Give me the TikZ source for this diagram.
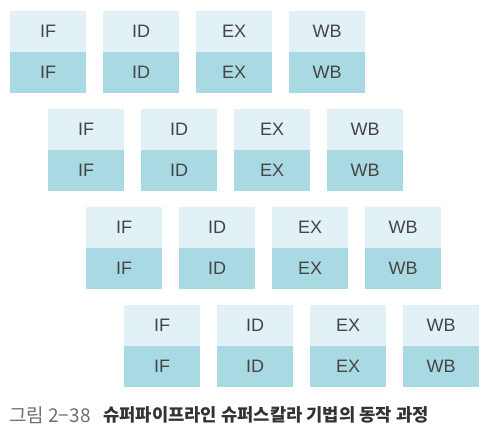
\documentclass[tikz,border=0pt]{standalone}
\usepackage{fontspec}
\setmainfont{Liberation Sans}
\newfontfamily\kr{Noto Sans CJK KR}
\definecolor{toplt}{HTML}{E1F1F5}
\definecolor{botdk}{HTML}{A9D9E2}
\definecolor{txt}{HTML}{454545}
\definecolor{capgray}{HTML}{6E6E6E}
\definecolor{capdark}{HTML}{333333}
\tikzset{
  halfbox/.style={minimum width=76pt, minimum height=41pt, inner sep=0pt, draw=none, text=txt, font=\fontsize{18}{18}\selectfont, anchor=north west},
  upper/.style={halfbox, fill=toplt},
  lower/.style={halfbox, fill=botdk},
}
\begin{document}
\begin{tikzpicture}[x=1pt,y=-1pt]
\useasboundingbox (0,0) rectangle (485,439);
\foreach \r in {0,1,2,3}{
  \foreach \s/\lab [count=\c from 0] in {a/IF,b/ID,c/EX,d/WB}{
    \node[upper] (u\r\s) at ({10+38*\r+93*\c},{11+98*\r}) {\lab};
    \node[lower] (l\r\s) at ({10+38*\r+93*\c},{52+98*\r}) {\lab};
  }
}
\node[anchor=west, inner sep=0pt, text=capgray, font=\kr\fontsize{19}{19}\selectfont] (capnum) at (9,415) {그림 2−38};
\node[anchor=west, inner sep=0pt, text=capdark, font=\kr\bfseries\fontsize{17.7}{18}\selectfont] (captxt) at (103,415) {슈퍼파이프라인 슈퍼스칼라 기법의 동작 과정};
\end{tikzpicture}
\end{document}
